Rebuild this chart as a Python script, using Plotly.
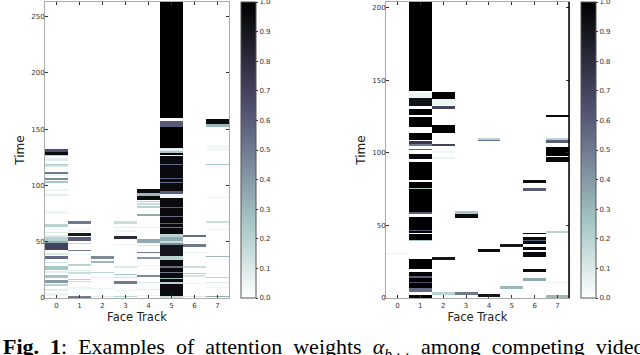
import numpy as np
import plotly.graph_objects as go

# attention weights, stored as (first step, last step, weight) runs per face track
left_rows = 263
left_t0 = [(130, 131, 0.65), (127, 129, 0.95), (126, 126, 0.2), (122, 123, 0.08), (118, 118, 0.25),
           (116, 117, 0.12), (110, 111, 0.5), (108, 109, 0.05), (105, 106, 0.45), (102, 103, 0.25),
           (95, 96, 0.05), (91, 91, 0.08), (75, 76, 0.05), (63, 65, 0.2), (58, 58, 0.1), (54, 55, 0.08),
           (51, 53, 0.2), (49, 50, 0.35), (43, 48, 0.7), (38, 39, 0.1), (35, 36, 0.55), (31, 31, 0.12),
           (25, 27, 0.25), (22, 23, 0.08), (18, 19, 0.25), (13, 15, 0.4), (11, 11, 0.2), (6, 7, 0.08),
           (2, 3, 0.05)]
left_t1 = [(66, 67, 0.5), (59, 60, 0.05), (55, 57, 0.9), (51, 53, 0.6), (48, 48, 0.15), (42, 42, 0.5),
           (38, 38, 0.05), (28, 29, 0.2), (24, 24, 0.1), (21, 22, 0.15), (16, 16, 0.2), (14, 14, 0.15),
           (8, 9, 0.05), (0, 1, 0.5)]
left_t2 = [(35, 36, 0.45), (31, 32, 0.3), (22, 22, 0.2), (18, 18, 0.05), (8, 8, 0.05), (1, 1, 0.08)]
left_t3 = [(66, 67, 0.15), (62, 62, 0.08), (59, 59, 0.05), (52, 54, 0.8), (47, 47, 0.05), (27, 27, 0.1),
           (20, 20, 0.25), (18, 18, 0.12), (12, 14, 0.5), (6, 6, 0.05), (1, 1, 0.2)]
left_t4 = [(93, 96, 0.95), (91, 92, 0.3), (87, 90, 0.95), (85, 85, 0.2), (83, 83, 0.15), (80, 81, 0.2),
           (73, 74, 0.35), (62, 62, 0.05), (49, 51, 0.35), (46, 46, 0.1), (40, 40, 0.5), (35, 35, 0.4),
           (28, 28, 0.05), (19, 19, 0.45), (13, 13, 0.1), (7, 7, 0.08), (2, 2, 0.05)]
left_t5 = [(160, 262, 1.0), (157, 159, 0.0), (152, 156, 0.6), (133, 151, 1.0), (131, 132, 0.08),
           (129, 130, 0.25), (127, 128, 1.0), (126, 126, 0.05), (95, 125, 0.95), (118, 118, 0.55),
           (106, 106, 0.6), (102, 102, 0.55), (92, 94, 0.6), (89, 91, 0.05), (57, 88, 0.95), (80, 80, 0.6),
           (72, 72, 0.55), (66, 66, 0.6), (62, 62, 0.5), (54, 56, 0.2), (51, 53, 0.35), (49, 50, 0.15),
           (47, 48, 0.45), (37, 46, 0.9), (34, 36, 0.2), (14, 33, 0.95), (27, 27, 0.55), (22, 22, 0.5),
           (17, 17, 0.3), (12, 13, 0.2), (2, 11, 0.95), (0, 1, 0.15)]
left_t6 = [(54, 55, 0.55), (50, 50, 0.05), (45, 47, 0.5), (40, 40, 0.05), (27, 27, 0.15), (21, 21, 0.2),
           (19, 19, 0.12), (12, 12, 0.05), (1, 1, 0.1)]
left_t7 = [(155, 158, 0.95), (152, 154, 0.3), (131, 135, 0.03), (118, 118, 0.25), (89, 89, 0.05),
           (67, 67, 0.15), (60, 60, 0.05), (36, 36, 0.3), (18, 18, 0.2), (13, 13, 0.1), (9, 9, 0.05),
           (1, 1, 0.35)]

right_rows = 204
right_t0 = [(30, 30, 0.05)]
right_t1 = [(143, 203, 1.0), (138, 140, 0.05), (132, 137, 0.92), (126, 129, 1.0), (118, 124, 1.0),
            (109, 113, 1.0), (106, 107, 0.75), (105, 105, 0.5), (102, 102, 0.6), (96, 98, 0.95),
            (81, 93, 1.0), (76, 79, 1.0), (75, 75, 0.25), (59, 74, 1.0), (58, 58, 0.6), (45, 55, 1.0),
            (46, 46, 0.6), (40, 43, 1.0), (39, 39, 0.25), (20, 26, 1.0), (7, 17, 1.0), (14, 14, 0.6),
            (10, 10, 0.65), (4, 6, 0.55), (0, 1, 1.0)]
right_t2 = [(137, 141, 1.0), (133, 136, 0.05), (130, 131, 0.7), (114, 118, 1.0), (105, 105, 0.7),
            (100, 100, 0.05), (96, 96, 0.05), (26, 27, 0.9), (2, 3, 0.2)]
right_t3 = [(58, 59, 0.25), (55, 57, 0.95), (2, 3, 0.5)]
right_t4 = [(109, 109, 0.2), (108, 108, 0.55), (32, 33, 0.95), (1, 2, 0.9)]
right_t5 = [(35, 36, 0.9), (6, 7, 0.3)]
right_t6 = [(79, 80, 0.95), (74, 75, 0.6), (44, 44, 0.95), (37, 41, 0.95), (39, 39, 0.6), (33, 34, 0.95),
            (28, 31, 0.95), (18, 19, 0.95), (12, 13, 0.35)]
right_t7 = [(125, 125, 0.95), (109, 109, 0.2), (107, 108, 0.6), (98, 103, 1.0), (94, 96, 0.95),
            (45, 45, 0.2), (10, 10, 0.05), (0, 1, 0.3)]

tracks = [0, 1, 2, 3, 4, 5, 6, 7]
cbar_ticks = [0.0, 0.1, 0.2, 0.3, 0.4, 0.5, 0.6, 0.7, 0.8, 0.9, 1.0]
caption_words = ["<b>Fig.", "1</b>:", "Examples", "of", "attention", "weights",
                 "<i>α</i><sub><i>b</i>,·,·</sub>", "among", "competing", "videos"]
# justified caption line: wider gaps between words
caption = "\u2002".join(caption_words)


def build(rows, runs):
    z = np.zeros((rows, len(runs)))
    for k, track in enumerate(runs):
        for a, b, v in track:
            z[a:b + 1, k] = v
    return z


z_left = build(left_rows, [left_t0, left_t1, left_t2, left_t3, left_t4, left_t5, left_t6, left_t7])
z_right = build(right_rows, [right_t0, right_t1, right_t2, right_t3, right_t4, right_t5, right_t6, right_t7])

# matplotlib "bone_r"
bone_r = [[0.0, "rgb(255,255,255)"], [0.254, "rgb(166,198,198)"],
          [0.635, "rgb(81,81,113)"], [1.0, "rgb(0,0,0)"]]

W, H = 640, 355
tick_font = dict(family="DejaVu Sans", size=7, color="#333")
title_font = dict(family="DejaVu Sans", size=12, color="#222")


def cbar(x):
    return dict(x=x / W, xanchor="left", xpad=0, y=1 - 298 / H, yanchor="bottom", ypad=0,
                len=296 / H, lenmode="fraction", thickness=15, outlinecolor="#555", outlinewidth=1,
                tickvals=cbar_ticks, ticktext=["%.1f" % t for t in cbar_ticks], ticks="outside",
                ticklen=2, tickcolor="#333", tickfont=tick_font, ticklabeloverflow="allow")


fig = go.Figure()
fig.add_trace(go.Heatmap(z=z_left, x=tracks, y0=0.5, dy=1, zmin=0, zmax=1, colorscale=bone_r,
                         colorbar=cbar(241), xaxis="x", yaxis="y"))
fig.add_trace(go.Heatmap(z=z_right, x=tracks, y0=0.5, dy=1, zmin=0, zmax=1, colorscale=bone_r,
                         colorbar=cbar(581), xaxis="x2", yaxis="y2"))

axis_style = dict(showline=True, linecolor="#aaa", linewidth=1, mirror="ticks", ticks="inside",
                  ticklen=3, tickcolor="#333", tickfont=tick_font, showgrid=False, zeroline=False,
                  automargin=False, ticklabeloverflow="allow")
ydom = [1 - 298 / H, 1 - 2 / H]
xtitle = dict(text="Face Track", font=dict(family="DejaVu Sans", size=11.5, color="#222"), standoff=1)

fig.update_layout(
    width=W, height=H, margin=dict(l=0, r=0, t=0, b=0, autoexpand=False),
    paper_bgcolor="white", plot_bgcolor="white",
    xaxis=dict(domain=[45 / W, 229 / W], range=[-0.5, 7.5], tickvals=tracks, anchor="y",
               ticklabelstandoff=1, title=xtitle, **axis_style),
    yaxis=dict(domain=ydom, range=[0, left_rows], tickvals=[0, 50, 100, 150, 200, 250], anchor="x",
               ticklabelstandoff=-2, title=dict(text="Time", font=title_font, standoff=4), **axis_style),
    xaxis2=dict(domain=[386 / W, 569 / W], range=[-0.5, 7.5], tickvals=tracks, anchor="y2",
                ticklabelstandoff=1, title=xtitle, **axis_style),
    yaxis2=dict(domain=ydom, range=[0, right_rows], tickvals=[0, 50, 100, 150, 200], anchor="x2",
                ticklabelstandoff=-2, title=dict(text="Time", font=title_font, standoff=4), **axis_style),
    shapes=[dict(type="line", xref="x2 domain", yref="y2 domain", x0=1, x1=1, y0=0, y1=1,
                 line=dict(color="black", width=1.5))],
    annotations=[dict(text=caption, xref="paper", yref="paper", x=1 / W, y=1 - 332 / H,
                      xanchor="left", yanchor="top", showarrow=False, align="left",
                      font=dict(family="Liberation Serif", size=22, color="black"))],
)

fig.write_html("out.html", config={"displayModeBar": False},
               post_script="document.body.style.margin = '0px';")
